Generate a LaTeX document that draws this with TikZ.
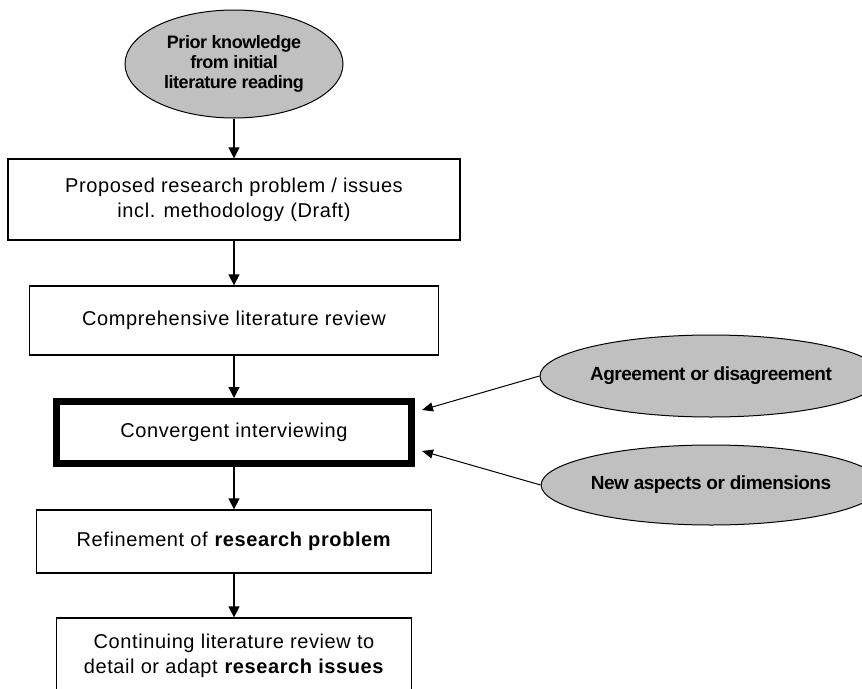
\documentclass[tikz,border=0pt]{standalone}
\usepackage{fontspec}
\setmainfont{Liberation Sans}
\newfontfamily\boxfont[LetterSpace=3]{Liberation Sans}
\newfontfamily\bubblefont[LetterSpace=-2.5]{Liberation Sans}
\usetikzlibrary{arrows.meta,shapes.geometric}

\definecolor{silver}{HTML}{C0C0C0}
\tikzset{
  stepbox/.style={draw=black, line width=1.3pt, fill=white, rectangle, inner sep=0pt,
    align=center, font=\boxfont\fontsize{20}{25}\selectfont},
  keybox/.style={stepbox, line width=7pt},
  bubble/.style={draw=black, line width=1pt, fill=silver, ellipse, inner sep=0pt,
    align=center, font=\bubblefont\bfseries\fontsize{19}{20}\selectfont},
  flow/.style={line width=1.4pt, -{Triangle[length=11pt,width=11pt]}},
  feed/.style={line width=1pt, -{Triangle[length=11pt,width=9pt]}},
}

\begin{document}
\begin{tikzpicture}[x=1pt, y=-1pt]
  \useasboundingbox (0,0) rectangle (862,688);
  \clip (0,0) rectangle (862,688);

  % main column
  \node[bubble, minimum width=218pt, minimum height=108pt,
        font=\bubblefont\bfseries\fontsize{18}{20}\selectfont] (prior) at (234,64)
    {Prior knowledge\\from initial\\literature reading};

  \node[stepbox, minimum width=452pt, minimum height=81pt] (draft) at (234,199.5)
    {Proposed research problem / issues\\incl. methodology (Draft)};

  \node[stepbox, minimum width=409pt, minimum height=69pt] (review) at (234,320.5)
    {Comprehensive literature review};

  \node[keybox, minimum width=355pt, minimum height=62pt] (interview) at (234,432.5)
    {Convergent interviewing};

  \node[stepbox, minimum width=395pt, minimum height=63pt] (refine) at (234,541.5)
    {Refinement of \textbf{research problem}};

  \node[stepbox, minimum width=355pt, minimum height=75pt] (continue) at (234,655.5)
    {Continuing literature review to\\detail or adapt \textbf{research issues}};

  % inputs to the interviews
  \node[bubble, minimum width=328pt, minimum height=82pt] (agree) at (711,376)
    {Agreement or disagreement};
  \node[bubble, minimum width=326pt, minimum height=80pt] (aspects) at (711,485)
    {New aspects or dimensions};

  \coordinate (inA) at (422,410);
  \coordinate (inB) at (422,451);

  % connectors
  \draw[flow] (prior.south) -- (draft.north);
  \draw[flow] (draft.south) -- (review.north);
  \draw[flow] (review.south) -- (interview.north);
  \draw[flow] (interview.south) -- (refine.north);
  \draw[flow] (refine.south) -- (continue.north);

  \draw[feed] (agree.west) -- (inA);
  \draw[feed] (aspects.west) -- (inB);
\end{tikzpicture}
\end{document}
